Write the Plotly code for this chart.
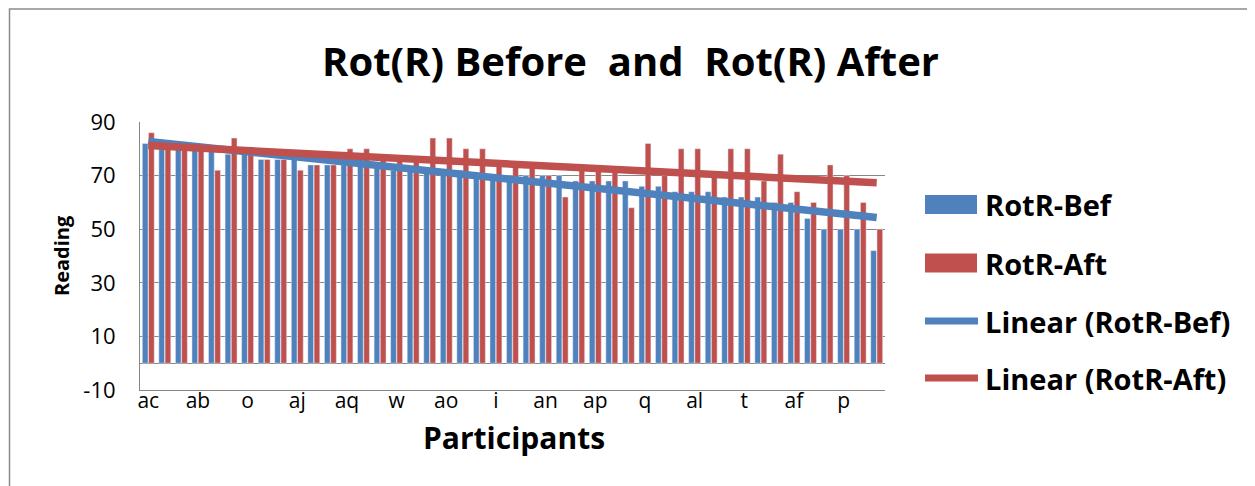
import numpy as np
import plotly.graph_objects as go

# participants in chart order (only every third name is printed on the axis)
participants = ["ac", "h", "ae", "ab", "y", "f", "o", "aa", "m", "aj", "c", "ar", "aq", "k", "e",
                "w", "ag", "b", "ao", "s", "ad", "i", "x", "am", "an", "g", "ah", "ap", "l", "u",
                "q", "a", "ak", "al", "d", "z", "t", "as", "j", "af", "n", "v", "p", "ai", "r"]

rotr_bef = [82, 80, 80, 80, 80, 78, 78, 76, 76, 76, 74, 74, 74, 74, 74,
            72, 72, 72, 72, 72, 70, 70, 70, 70, 70, 70, 68, 68, 68, 68,
            66, 66, 64, 64, 64, 62, 62, 62, 60, 60, 54, 50, 50, 50, 42]

rotr_aft = [86, 80, 80, 80, 72, 84, 78, 76, 76, 72, 74, 74, 80, 80, 76,
            76, 76, 84, 84, 80, 80, 74, 74, 74, 70, 62, 72, 72, 72, 58,
            82, 70, 80, 80, 70, 80, 80, 68, 78, 64, 60, 74, 70, 60, 50]

y_ticks = [-10, 10, 30, 50, 70, 90]
y_tick_text = ["-10", "10", "30", "50", "70", "90"]

BLUE = "#4F81BD"
RED = "#C0504D"
GRID = "#868686"
FONT = "Open Sans"

# the page puts the figure 8px in from the window corner, so work in window pixels
OFF = 8
W, H = 1255 - OFF, 486 - OFF
L, R, T, B = 140, 885, 122, 390   # plot area, window pixels


def px(x):
    return (x - L) / (R - L)


def py(y):
    return (B - y) / (B - T)


# linear trend lines, like Excel's "Linear (...)" series
idx = np.arange(1, len(participants) + 1)
fit_bef = np.polyval(np.polyfit(idx, rotr_bef, 1), idx)
fit_aft = np.polyval(np.polyfit(idx, rotr_aft, 1), idx)

fig = go.Figure()
fig.add_trace(go.Bar(x=participants, y=rotr_bef, name="RotR-Bef", marker_color=BLUE, showlegend=False))
fig.add_trace(go.Bar(x=participants, y=rotr_aft, name="RotR-Aft", marker_color=RED, showlegend=False))
fig.add_trace(go.Scatter(x=participants, y=fit_bef, mode="lines", name="Linear (RotR-Bef)",
                         line=dict(color=BLUE, width=7.5), showlegend=False))
fig.add_trace(go.Scatter(x=participants, y=fit_aft, mode="lines", name="Linear (RotR-Aft)",
                         line=dict(color=RED, width=7.5), showlegend=False))

fig.update_layout(
    width=W, height=H,
    margin=dict(l=L - OFF, r=W - (R - OFF), t=T - OFF, b=H - (B - OFF)),
    plot_bgcolor="white", paper_bgcolor="white",
    font=dict(family=FONT, color="black"),
    barmode="group", bargap=0.25, bargroupgap=0.08,
    xaxis=dict(
        type="category", range=[-0.5, len(participants) - 0.5],
        tickmode="array", tickvals=participants[::3], ticktext=participants[::3],
        tickfont=dict(size=21), showgrid=False, ticklabelstandoff=-8,
        showline=True, linecolor=GRID, linewidth=1, ticks="",
    ),
    yaxis=dict(
        range=[-10, 90], tickmode="array", tickvals=y_ticks, ticktext=y_tick_text,
        tickfont=dict(size=22), ticklabelstandoff=19,
        showgrid=True, gridcolor=GRID, gridwidth=1,
        zeroline=True, zerolinecolor=GRID, zerolinewidth=1,
        showline=True, linecolor=GRID, linewidth=1, ticks="",
    ),
)

annotations = [
    dict(text="<b>Rot(R) Before  and  Rot(R) After</b>", x=px(630), y=py(60),
         font=dict(size=40)),
    dict(text="<b>Reading</b>", x=px(61), y=py(256), textangle=-90, font=dict(size=20)),
    dict(text="<b>Participants</b>", x=px(514), y=py(437), font=dict(size=30)),
]
for a in annotations:
    a.update(xref="paper", yref="paper", showarrow=False, xanchor="center", yanchor="middle")
fig.update_layout(annotations=annotations)

# outer chart frame and a hand-made legend, sized like the Excel one
shapes = [dict(type="rect", xref="paper", yref="paper", x0=px(9.5), x1=px(1249), y0=py(9), y1=py(500),
               line=dict(color="#8C8C8C", width=1.5), fillcolor="rgba(0,0,0,0)", layer="below")]
legend_rows = [("RotR-Bef", BLUE, "box", 204.5), ("RotR-Aft", RED, "box", 263),
               ("Linear (RotR-Bef)", BLUE, "line", 321), ("Linear (RotR-Aft)", RED, "line", 378)]
for name, color, kind, yc in legend_rows:
    if kind == "box":
        shapes.append(dict(type="rect", xref="paper", yref="paper", x0=px(925), x1=px(977),
                           y0=py(yc + 9.5), y1=py(yc - 9.5), fillcolor=color, line=dict(width=0)))
    else:
        shapes.append(dict(type="line", xref="paper", yref="paper", x0=px(925), x1=px(978),
                           y0=py(yc), y1=py(yc), line=dict(color=color, width=7)))
    fig.add_annotation(text="<b>%s</b>" % name, xref="paper", yref="paper", x=px(983), y=py(yc),
                       xanchor="left", yanchor="middle", showarrow=False, font=dict(size=29))
fig.update_layout(shapes=shapes)

fig.write_html("out.html")
